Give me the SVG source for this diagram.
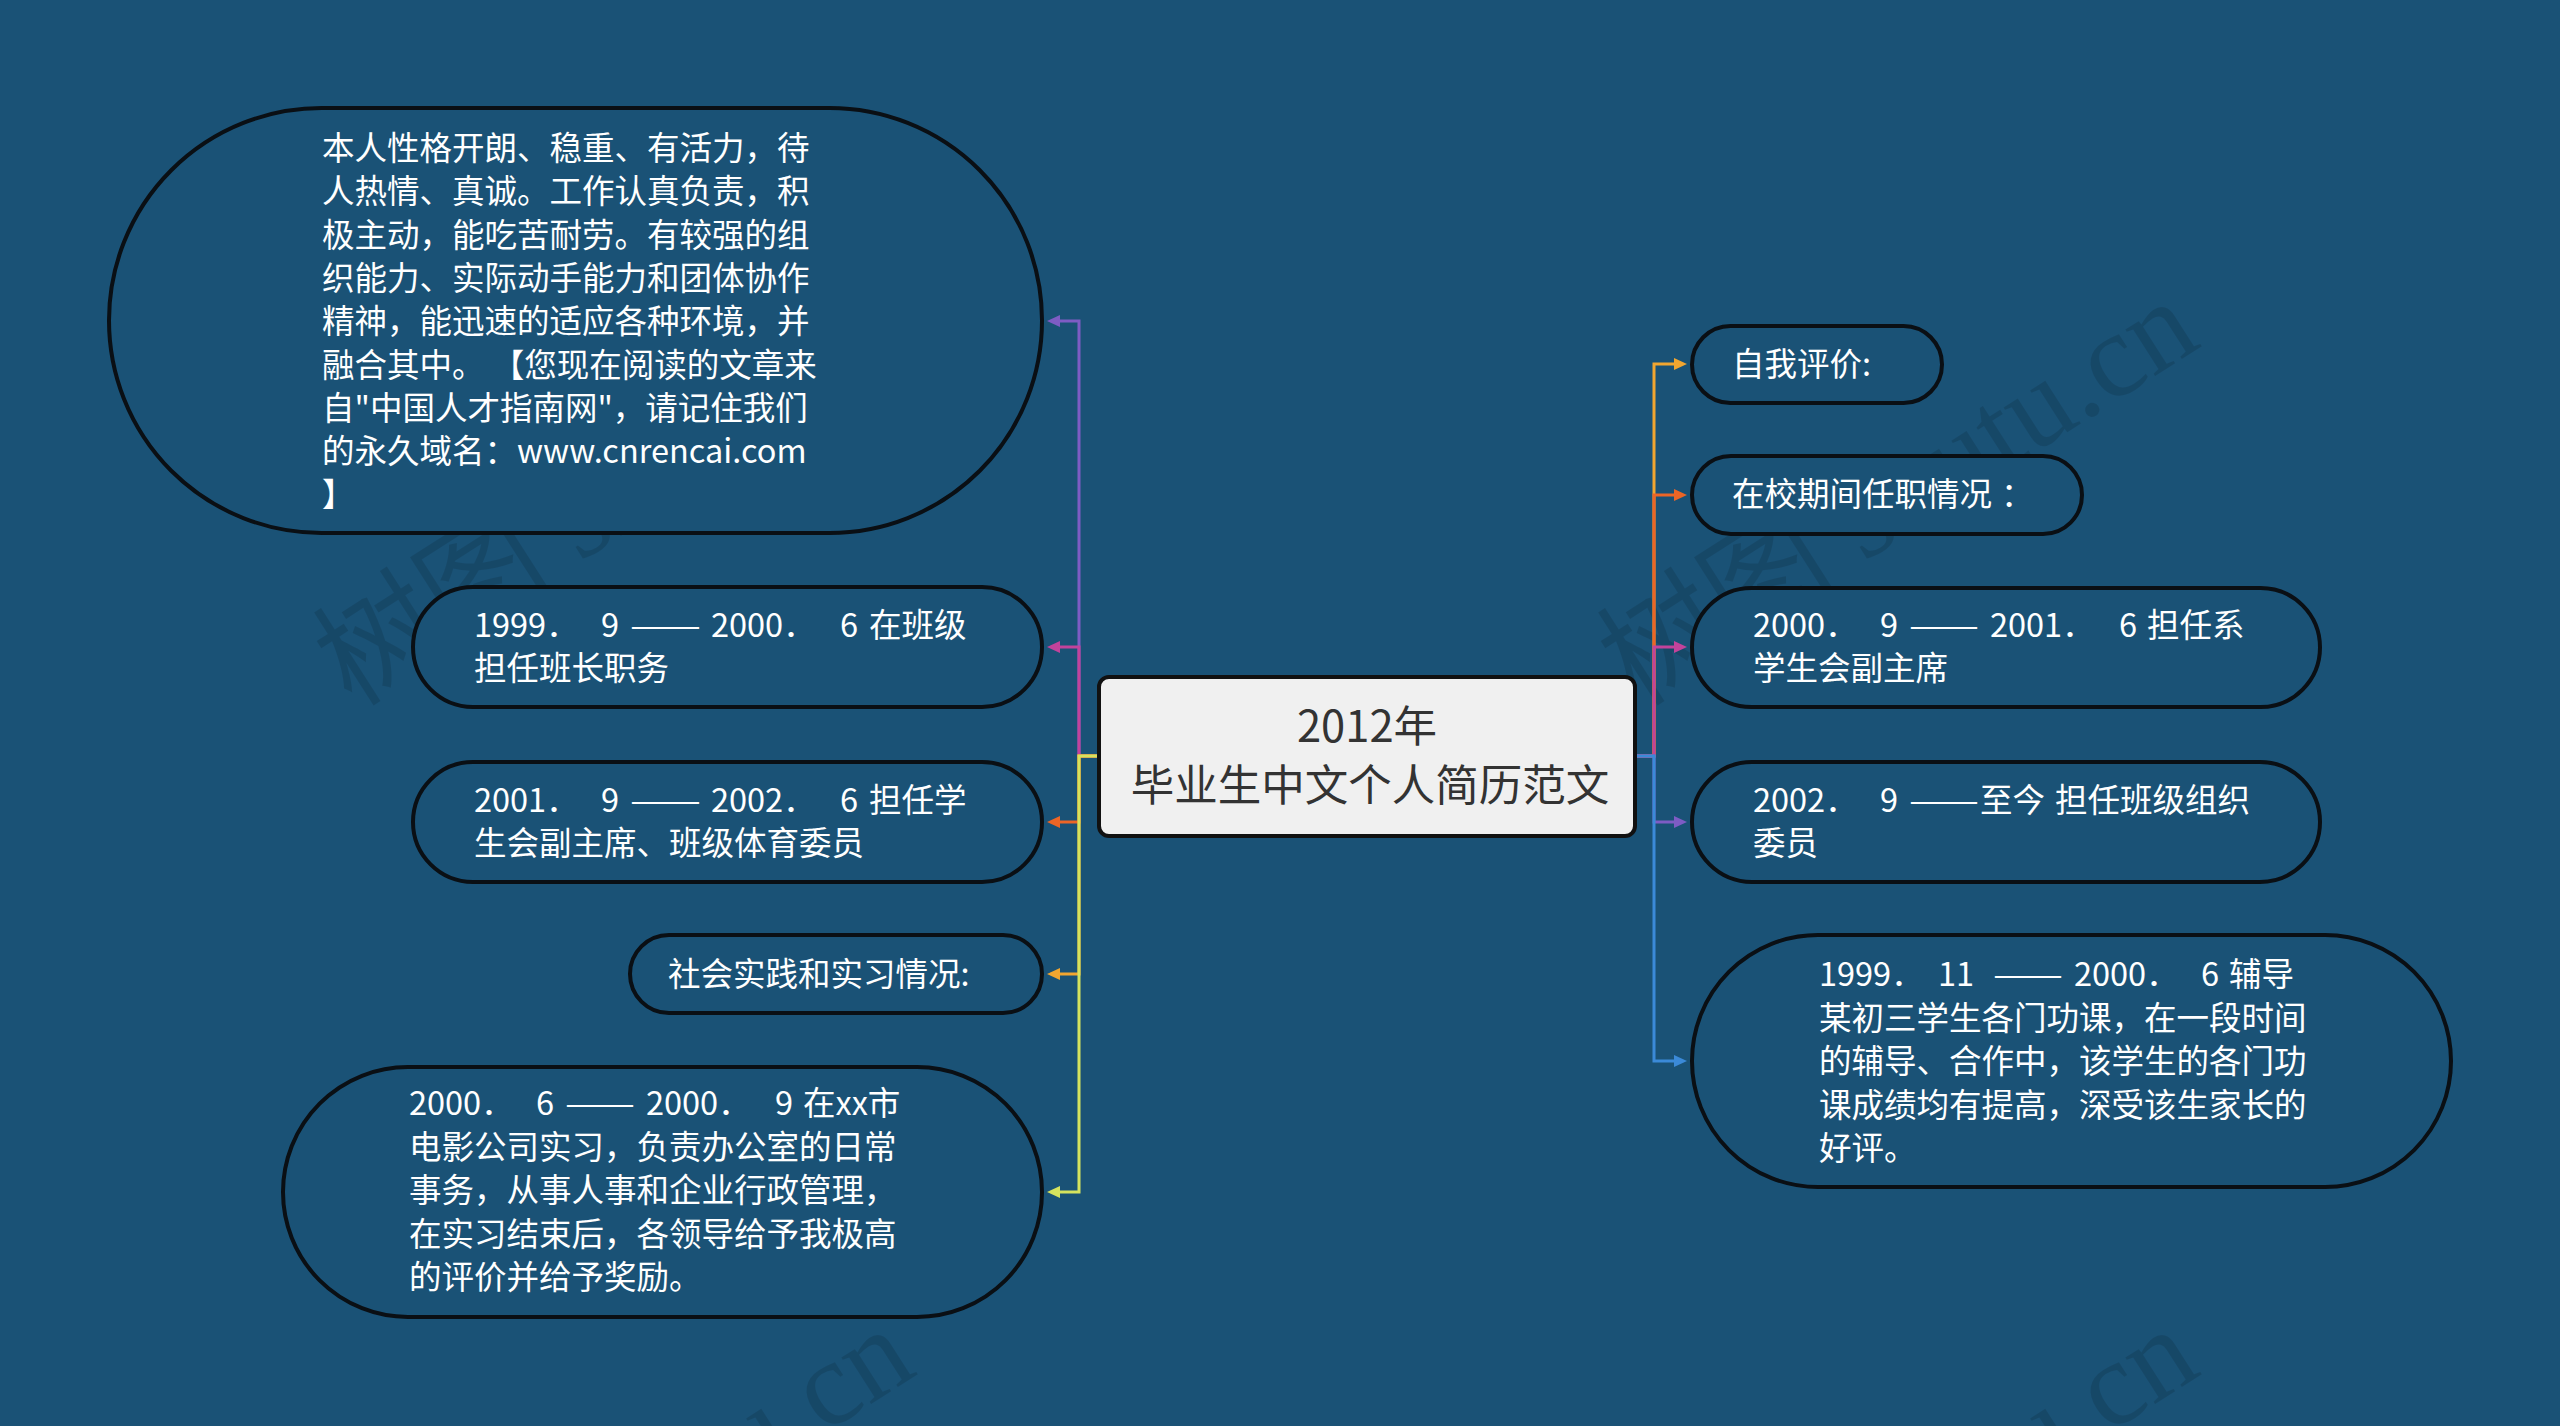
<svg xmlns="http://www.w3.org/2000/svg" width="2560" height="1426" viewBox="0 0 2560 1426">
<style>
.bg{fill:#1a5276}
.node{fill:#1a5276;stroke:#0a0f14;stroke-width:4}
.t{font-family:"Noto Sans CJK SC","Noto Sans",sans-serif;font-size:32.5px;fill:#ffffff}
.ct{font-family:"Noto Sans CJK SC","Noto Sans",sans-serif;font-size:43.5px;fill:#333333;text-anchor:middle}
.c{fill:none;stroke-width:3;stroke-linejoin:miter}
.wm{font-family:"Liberation Serif","Noto Sans CJK SC",serif;font-size:120px;fill:#000000;fill-opacity:0.12}
</style>
<defs>
<marker id="aP" markerUnits="userSpaceOnUse" markerWidth="13" markerHeight="12" refX="0" refY="6" orient="auto"><path d="M0,0 L13,6 L0,12 z" fill="#7e5cc4"/></marker>
<marker id="aM" markerUnits="userSpaceOnUse" markerWidth="13" markerHeight="12" refX="0" refY="6" orient="auto"><path d="M0,0 L13,6 L0,12 z" fill="#c2439b"/></marker>
<marker id="aO" markerUnits="userSpaceOnUse" markerWidth="13" markerHeight="12" refX="0" refY="6" orient="auto"><path d="M0,0 L13,6 L0,12 z" fill="#ec6526"/></marker>
<marker id="aY" markerUnits="userSpaceOnUse" markerWidth="13" markerHeight="12" refX="0" refY="6" orient="auto"><path d="M0,0 L13,6 L0,12 z" fill="#f2a630"/></marker>
<marker id="aG" markerUnits="userSpaceOnUse" markerWidth="13" markerHeight="12" refX="0" refY="6" orient="auto"><path d="M0,0 L13,6 L0,12 z" fill="#d5e35e"/></marker>
<marker id="aB" markerUnits="userSpaceOnUse" markerWidth="13" markerHeight="12" refX="0" refY="6" orient="auto"><path d="M0,0 L13,6 L0,12 z" fill="#3b8ad8"/></marker>
</defs>
<rect class="bg" x="0" y="0" width="2560" height="1426"/>

<g id="watermarks">
<text class="wm" transform="translate(352,708) rotate(-32.6)">树图 shutu.cn</text>
<text class="wm" transform="translate(1636,708) rotate(-32.6)">树图 shutu.cn</text>
<text class="wm" transform="translate(352,1736) rotate(-32.6)">树图 shutu.cn</text>
<text class="wm" transform="translate(1636,1736) rotate(-32.6)">树图 shutu.cn</text>
</g>

<g id="connectors">
<path class="c" stroke="#7e5cc4" d="M1099,756 H1079 V321 H1060" marker-end="url(#aP)"/>
<path class="c" stroke="#c2439b" d="M1099,756 H1079 V647 H1060" marker-end="url(#aM)"/>
<path class="c" stroke="#ec6526" d="M1099,756 H1079 V822 H1060" marker-end="url(#aO)"/>
<path class="c" stroke="#f2a630" d="M1099,756 H1079 V974 H1060" marker-end="url(#aY)"/>
<path class="c" stroke="#d5e35e" d="M1099,756 H1079 V1192 H1060" marker-end="url(#aG)"/>
<path class="c" stroke="#f2a630" d="M1635,756 H1654 V364 H1674" marker-end="url(#aY)"/>
<path class="c" stroke="#ec6526" d="M1635,756 H1654 V495 H1674" marker-end="url(#aO)"/>
<path class="c" stroke="#c2439b" d="M1635,756 H1654 V647 H1674" marker-end="url(#aM)"/>
<path class="c" stroke="#7e5cc4" d="M1635,756 H1654 V822 H1674" marker-end="url(#aP)"/>
<path class="c" stroke="#3b8ad8" d="M1635,756 H1654 V1061 H1674" marker-end="url(#aB)"/>
</g>

<g id="center">
<rect x="1099" y="677" width="536" height="159" rx="10" fill="#f0f0f0" stroke="#111111" stroke-width="4"/>
<text class="ct" x="1367" y="742">2012年</text>
<text class="ct" x="1370" y="801">毕业生中文个人简历范文</text>
</g>

<g id="left1">
<rect class="node" x="109" y="108" width="933" height="425" rx="212.5"/>
<text class="t" x="322" y="160">本人性格开朗、稳重、有活力，待</text>
<text class="t" x="322" y="203.3">人热情、真诚。工作认真负责，积</text>
<text class="t" x="322" y="246.6">极主动，能吃苦耐劳。有较强的组</text>
<text class="t" x="322" y="290">织能力、实际动手能力和团体协作</text>
<text class="t" x="322" y="333.2">精神，能迅速的适应各种环境，并</text>
<text class="t" x="322" y="376.5">融合其中。 【您现在阅读的文章来</text>
<text class="t" x="322" y="419.8">自"中国人才指南网"，请记住我们</text>
<text class="t" x="322" y="463">的永久域名：www.cnrencai.com</text>
<text class="t" x="322" y="506.4">】</text>
</g>

<g id="left2">
<rect class="node" x="413" y="587" width="629" height="120" rx="60"/>
<text class="t" x="474" y="637">1999．<tspan x="601">9</tspan><tspan x="630" textLength="71" lengthAdjust="spacingAndGlyphs">——</tspan><tspan x="711">2000．</tspan><tspan x="840">6</tspan><tspan x="869">在班级</tspan></text>
<text class="t" x="474" y="680">担任班长职务</text>
</g>

<g id="left3">
<rect class="node" x="413" y="762" width="629" height="120" rx="60"/>
<text class="t" x="474" y="812">2001．<tspan x="601">9</tspan><tspan x="630" textLength="71" lengthAdjust="spacingAndGlyphs">——</tspan><tspan x="711">2002．</tspan><tspan x="840">6</tspan><tspan x="869">担任学</tspan></text>
<text class="t" x="474" y="855">生会副主席、班级体育委员</text>
</g>

<g id="left4">
<rect class="node" x="630" y="935" width="412" height="78" rx="39"/>
<text class="t" x="668" y="986">社会实践和实习情况:</text>
</g>

<g id="left5">
<rect class="node" x="283" y="1067" width="759" height="250" rx="125"/>
<text class="t" x="409" y="1115">2000．<tspan x="536">6</tspan><tspan x="565" textLength="70" lengthAdjust="spacingAndGlyphs">——</tspan><tspan x="646">2000．</tspan><tspan x="775">9</tspan><tspan x="803">在xx市</tspan></text>
<text class="t" x="409" y="1158.5">电影公司实习，负责办公室的日常</text>
<text class="t" x="409" y="1202">事务，从事人事和企业行政管理，</text>
<text class="t" x="409" y="1245.5">在实习结束后，各领导给予我极高</text>
<text class="t" x="409" y="1289">的评价并给予奖励。</text>
</g>

<g id="right1">
<rect class="node" x="1692" y="326" width="250" height="77" rx="38.5"/>
<text class="t" x="1732" y="376">自我评价:</text>
</g>

<g id="right2">
<rect class="node" x="1692" y="456" width="390" height="78" rx="39"/>
<text class="t" x="1732" y="506">在校期间任职情况<tspan x="2001">：</tspan></text>
</g>

<g id="right3">
<rect class="node" x="1692" y="588" width="628" height="119" rx="59.5"/>
<text class="t" x="1753" y="637">2000．<tspan x="1880">9</tspan><tspan x="1909" textLength="70" lengthAdjust="spacingAndGlyphs">——</tspan><tspan x="1990">2001．</tspan><tspan x="2119">6</tspan><tspan x="2147">担任系</tspan></text>
<text class="t" x="1753" y="680">学生会副主席</text>
</g>

<g id="right4">
<rect class="node" x="1692" y="762" width="628" height="120" rx="60"/>
<text class="t" x="1753" y="812">2002．<tspan x="1880">9</tspan><tspan x="1909" textLength="70" lengthAdjust="spacingAndGlyphs">——</tspan><tspan x="1980">至今</tspan><tspan x="2055">担任班级组织</tspan></text>
<text class="t" x="1753" y="855">委员</text>
</g>

<g id="right5">
<rect class="node" x="1692" y="935" width="759" height="252" rx="126"/>
<text class="t" x="1819" y="986">1999．<tspan x="1938">11</tspan><tspan x="1993" textLength="70" lengthAdjust="spacingAndGlyphs">——</tspan><tspan x="2074">2000．</tspan><tspan x="2201">6</tspan><tspan x="2229">辅导</tspan></text>
<text class="t" x="1819" y="1029.5">某初三学生各门功课，在一段时间</text>
<text class="t" x="1819" y="1073">的辅导、合作中，该学生的各门功</text>
<text class="t" x="1819" y="1116.5">课成绩均有提高，深受该生家长的</text>
<text class="t" x="1819" y="1160">好评。</text>
</g>
</svg>
